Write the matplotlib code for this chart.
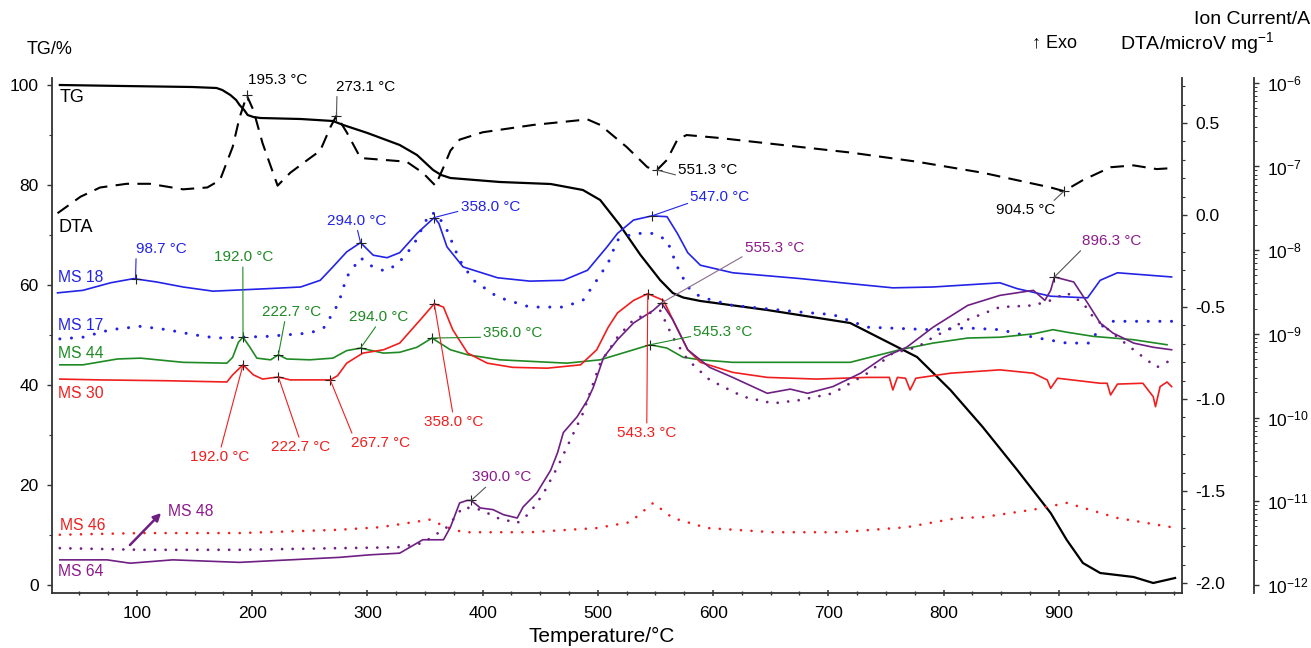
import numpy as np
import matplotlib
matplotlib.use("Agg")
import matplotlib.pyplot as plt
from matplotlib.ticker import MultipleLocator, FixedLocator, NullFormatter

plt.rcParams['font.family'] = ['Liberation Sans', 'DejaVu Sans']
plt.rcParams['mathtext.fontset'] = 'custom'
plt.rcParams['mathtext.rm'] = 'Liberation Sans'
plt.rcParams['mathtext.it'] = 'Liberation Sans:italic'
plt.rcParams['mathtext.bf'] = 'Liberation Sans:bold'

# ---- data ----
# TG mass (%) against temperature (degC)
tg_t = [33, 88, 148, 169, 174, 181, 186, 189, 193, 196, 201, 207, 242, 270, 279, 300, 328, 343, 357, 364, 372, 415, 459, 487, 502,
        519, 537, 554, 565, 574, 589, 647, 719, 748, 777, 806, 834, 864, 893, 907, 921, 936, 965, 982, 1001]
tg = [100, 99.8, 99.6, 99.4, 99.0, 98.0, 97.0, 96.0, 95.0, 94.0, 93.6, 93.4, 93.2, 92.8, 92.0, 90.4, 88.0, 86.0, 83.0, 82.0, 81.4, 80.6, 80.2, 79.0, 77.0,
      72.0, 66.0, 61.0, 58.4, 57.5, 56.8, 55.0, 52.4, 49.0, 45.6, 39.0, 31.6, 23.0, 14.4, 9.0, 4.4, 2.4, 1.6, 0.4, 1.4]

# DTA (microV/mg)
dta_t = [31, 51, 68, 91, 111, 140, 161, 172, 183, 189, 195.3, 201, 209, 222, 233, 248, 259, 268, 273.1, 282,
         294, 314, 334, 348, 359, 366, 372, 380, 400, 444, 491, 502, 525, 543, 551.3, 560, 569, 577, 604, 647,
         719, 777, 834, 893, 904.5, 921, 945, 965, 985, 998]
dta = [0.01, 0.10, 0.15, 0.17, 0.17, 0.14, 0.15, 0.19, 0.37, 0.53, 0.65, 0.57, 0.39, 0.16, 0.23, 0.30, 0.35, 0.48, 0.54, 0.45,
       0.31, 0.30, 0.29, 0.23, 0.16, 0.26, 0.35, 0.41, 0.45, 0.49, 0.52, 0.49, 0.37, 0.26, 0.245, 0.30, 0.41, 0.435, 0.42, 0.39,
       0.34, 0.29, 0.23, 0.15, 0.13, 0.19, 0.26, 0.27, 0.25, 0.255]

# MS ion currents, stored as log10(I / A)
ms18_t = [31, 53, 77, 97, 117, 140, 166, 213, 242, 259, 270, 282, 294, 305, 317, 328, 343, 358, 362, 369,
          383, 413, 441, 470, 491, 508, 517, 531, 547, 560, 569, 578, 589, 617, 676, 719, 756, 791, 849, 864,
          893, 925, 936, 951, 998]
ms18 = [-8.51, -8.48, -8.39, -8.34, -8.38, -8.44, -8.49, -8.46, -8.44, -8.36, -8.20, -8.02, -7.91, -8.06, -8.09, -8.03, -7.80, -7.61, -7.68, -7.96,
        -8.20, -8.33, -8.37, -8.36, -8.24, -7.96, -7.80, -7.64, -7.59, -7.60, -7.80, -8.03, -8.18, -8.27, -8.34, -8.40, -8.45, -8.44, -8.39, -8.46,
        -8.55, -8.57, -8.36, -8.27, -8.32]

ms17_t = [33, 53, 77, 103, 126, 149, 169, 213, 250, 262, 270, 275, 282, 294, 302, 315, 326, 340, 354, 360,
          369, 380, 392, 413, 441, 470, 487, 499, 509, 517, 531, 548, 560, 569, 578, 589, 617, 676, 704, 734,
          788, 821, 849, 878, 907, 927, 936, 947, 998]
ms17 = [-9.06, -9.04, -8.95, -8.91, -8.95, -9.01, -9.05, -9.03, -8.99, -8.93, -8.75, -8.63, -8.32, -8.09, -8.18, -8.25, -8.17, -7.94, -7.56, -7.56,
        -7.76, -8.12, -8.36, -8.56, -8.68, -8.68, -8.60, -8.36, -8.15, -7.88, -7.80, -7.80, -7.88, -8.20, -8.44, -8.56, -8.66, -8.74, -8.77, -8.92,
        -8.95, -8.93, -8.95, -9.04, -9.11, -9.11, -8.92, -8.85, -8.85]

ms44_t = [33, 53, 83, 103, 140, 178, 183, 188, 192, 198, 204, 216, 222.7, 230, 250, 270, 282, 294, 314, 328,
          343, 356, 372, 387, 415, 473, 502, 531, 545.3, 560, 574, 589, 617, 676, 719, 762, 791, 821, 849, 878,
          895, 907, 930, 965, 994]
ms44 = [-9.37, -9.37, -9.30, -9.29, -9.34, -9.35, -9.28, -9.10, -9.04, -9.16, -9.29, -9.31, -9.25, -9.30, -9.31, -9.29, -9.20, -9.17, -9.23, -9.22,
        -9.16, -9.05, -9.19, -9.25, -9.31, -9.35, -9.31, -9.19, -9.13, -9.17, -9.28, -9.31, -9.34, -9.34, -9.34, -9.19, -9.11, -9.05, -9.04, -9.00,
        -8.95, -8.98, -9.03, -9.07, -9.13]

ms30_t = [33, 68, 126, 178, 183, 192, 201, 209, 222.7, 233, 267.7, 274, 282, 296, 314, 328, 346, 358, 366, 374,
          387, 404, 426, 456, 485, 499, 509, 517, 531, 543.3, 557, 565, 578, 589, 617, 647, 690, 734, 753, 756,
          760, 767, 771, 776, 806, 849, 878, 890, 893, 899, 936, 942, 945, 951, 973, 982, 984, 988, 994, 998]
ms30 = [-9.54, -9.55, -9.56, -9.575, -9.49, -9.37, -9.49, -9.54, -9.515, -9.55, -9.55, -9.50, -9.35, -9.23, -9.19, -9.11, -8.83, -8.64, -8.68, -8.95,
        -9.23, -9.35, -9.40, -9.41, -9.37, -9.19, -8.92, -8.75, -8.60, -8.52, -8.60, -8.83, -9.19, -9.34, -9.46, -9.52, -9.54, -9.52, -9.52, -9.67,
        -9.52, -9.53, -9.67, -9.53, -9.47, -9.43, -9.47, -9.55, -9.65, -9.53, -9.59, -9.59, -9.73, -9.60, -9.59, -9.75, -9.87, -9.63, -9.575, -9.63]

ms64_t = [33, 74, 94, 131, 189, 276, 302, 328, 348, 366, 372, 380, 386.5, 390, 398, 409, 418, 430, 435, 447,
          459, 465, 470, 482, 491, 496, 505, 517, 531, 548, 555.3, 565, 578, 597, 617, 647, 667, 682, 704, 728,
          748, 768, 791, 821, 849, 878, 888, 893, 896.3, 913, 925, 936, 947, 965, 982, 998]
ms64 = [-11.70, -11.70, -11.74, -11.70, -11.73, -11.67, -11.64, -11.62, -11.46, -11.46, -11.31, -11.02, -10.99, -10.99, -11.08, -11.10, -11.16, -11.20, -11.07, -10.90,
        -10.63, -10.42, -10.18, -9.99, -9.79, -9.64, -9.28, -9.07, -8.87, -8.72, -8.63, -8.83, -9.19, -9.40, -9.52, -9.71, -9.66, -9.71, -9.63, -9.47,
        -9.28, -9.16, -8.92, -8.66, -8.54, -8.48, -8.60, -8.48, -8.32, -8.38, -8.63, -8.87, -8.99, -9.11, -9.16, -9.19]

ms48_t = [33, 103, 189, 276, 326, 348, 369, 383, 398, 413, 430, 441, 453, 465, 476, 487, 502, 517, 531, 545,
          554, 565, 578, 597, 626, 652, 676, 704, 734, 756, 777, 791, 821, 849, 878, 893, 907, 921, 930, 951,
          965, 985, 998]
ms48 = [-11.56, -11.58, -11.58, -11.56, -11.55, -11.50, -11.31, -11.07, -11.10, -11.20, -11.26, -11.14, -10.90, -10.59, -10.27, -9.95, -9.35, -9.04, -8.83, -8.75,
        -8.72, -9.04, -9.31, -9.55, -9.75, -9.83, -9.79, -9.71, -9.47, -9.23, -9.16, -9.04, -8.83, -8.68, -8.66, -8.60, -8.51, -8.63, -8.80, -9.04,
        -9.19, -9.40, -9.31]

ms46_t = [33, 103, 189, 276, 311, 354, 369, 383, 441, 499, 528, 548, 565, 595, 652, 710, 768, 812, 834, 878,
          907, 951, 998]
ms46 = [-11.40, -11.38, -11.38, -11.34, -11.31, -11.22, -11.31, -11.37, -11.37, -11.32, -11.25, -11.02, -11.20, -11.32, -11.37, -11.37, -11.31, -11.20, -11.19, -11.10,
        -11.02, -11.20, -11.31]

BLUE = '#2323e8'
GREEN = '#1f8a24'
RED = '#f01e1e'
PURPLE = '#6e1f82'
PURPLE_TXT = '#8c1a8c'

W, H = 1311, 648
fig = plt.figure(figsize=(W / 100, H / 100), dpi=100)
ax = fig.add_axes([52 / W, 55 / H, 1130 / W, 515 / H])
ax2 = ax.twinx()
ax3 = ax.twinx()

spine_c = '#333333'
for a in (ax, ax2, ax3):
    for s in a.spines.values():
        s.set_color(spine_c)
        s.set_linewidth(1.3)
    a.spines['top'].set_visible(False)
ax.spines['right'].set_visible(False)
for a in (ax2, ax3):
    a.spines['left'].set_visible(False)
    a.spines['bottom'].set_visible(False)
    a.xaxis.set_visible(False)
    a.yaxis.get_offset_text().set_visible(False)
ax3.spines['right'].set_position(('outward', 52))

ax.set_xlim(26.2, 1007)
ax.set_ylim(-1.6, 101.4)
ax2.set_ylim(-2.054, 0.745)
ax3.set_yscale('log')
ax3.set_ylim(10 ** -12.096, 10 ** -5.943)

# TG and DTA
ax.plot(tg_t, tg, color='black', lw=1.6, zorder=3)
ax2.plot(dta_t, dta, color='black', lw=1.5, dashes=(6.5, 4), zorder=3)


# MS curves
def logp(a):
    return 10 ** np.asarray(a)


dot = dict(dash_capstyle='round', solid_capstyle='round')
ax3.plot(ms18_t, logp(ms18), color=BLUE, lw=1.2)
ax3.plot(ms17_t, logp(ms17), color=BLUE, lw=2.2, dashes=(0.01, 3.8), **dot)
ax3.plot(ms44_t, logp(ms44), color=GREEN, lw=1.2)
ax3.plot(ms30_t, logp(ms30), color=RED, lw=1.2)
ax3.plot(ms46_t, logp(ms46), color=RED, lw=1.9, dashes=(0.01, 4.0), **dot)
ax3.plot(ms64_t, logp(ms64), color=PURPLE, lw=1.2)
ax3.plot(ms48_t, logp(ms48), color=PURPLE, lw=2.0, dashes=(0.01, 3.8), **dot)

# ticks
ax.xaxis.set_major_locator(FixedLocator([100, 200, 300, 400, 500, 600, 700, 800, 900]))
ax.xaxis.set_minor_locator(MultipleLocator(25))
ax.yaxis.set_major_locator(MultipleLocator(20))
ax.yaxis.set_minor_locator(MultipleLocator(10))
ax.tick_params(axis='x', which='major', direction='inout', length=5, width=1.1, pad=7, labelsize=12.5, color=spine_c)
ax.tick_params(axis='x', which='minor', direction='inout', length=3.5, width=1.0, color=spine_c)
ax.tick_params(axis='y', which='major', direction='out', length=3.5, width=1.0, pad=6, labelsize=12.5, color=spine_c)
ax.tick_params(axis='y', which='minor', direction='out', length=2, width=0.8, color=spine_c)

ax2.yaxis.set_major_locator(FixedLocator([-2.0, -1.5, -1.0, -0.5, 0.0, 0.5]))
ax2.yaxis.set_minor_locator(MultipleLocator(0.1))
ax2.yaxis.set_major_formatter(matplotlib.ticker.FormatStrFormatter('%.1f'))
ax2.tick_params(axis='y', which='major', direction='out', length=3.5, width=1.0, pad=6, labelsize=12.5, color=spine_c)
ax2.tick_params(axis='y', which='minor', direction='out', length=2, width=0.8, color=spine_c)

decades = list(range(-12, -5))
ax3.yaxis.set_major_locator(FixedLocator([10.0 ** e for e in decades]))
ax3.yaxis.set_minor_locator(FixedLocator([s * 10.0 ** e for e in decades[:-1] for s in range(2, 10)]))
ax3.yaxis.set_minor_formatter(NullFormatter())
ax3.tick_params(axis='y', which='major', direction='out', length=3.5, width=1.0, pad=6, labelsize=12.5, color=spine_c)
ax3.tick_params(axis='y', which='minor', direction='out', length=2, width=0.7, color=spine_c)


# peak annotations
def peak(axis, t, ts, vs, text, color, off, rel=None, log=False, lcolor=None):
    y = np.interp(t, ts, vs)
    if log:
        y = 10 ** y
    axis.plot([t], [y], marker='+', color='#222222', ms=6.5, mew=0.8, zorder=6)
    arrow = None
    if rel is not None:
        arrow = dict(arrowstyle='-', color=lcolor or color, lw=0.8, shrinkA=0, shrinkB=0, relpos=rel)
    axis.annotate(text, xy=(t, y), xytext=(off[0] * 0.72, -off[1] * 0.72), textcoords='offset points',
                  ha='center', va='center', color=color, fontsize=11, arrowprops=arrow, zorder=7)


GREY = '#555555'
peak(ax2, 195.3, dta_t, dta, '195.3 °C', 'black', (31, -15))
peak(ax2, 273.1, dta_t, dta, '273.1 °C', 'black', (29, -29), rel=(0.02, 0.1), lcolor=GREY)
peak(ax2, 551.3, dta_t, dta, '551.3 °C', 'black', (51, 0), rel=(0.0, 0.1), lcolor=GREY)
peak(ax2, 904.5, dta_t, dta, '904.5 °C', 'black', (-38, 19), rel=(0.9, 0.9), lcolor=GREY)

peak(ax3, 98.7, ms18_t, ms18, '98.7 °C', BLUE, (26, -30), rel=(0.0, 0.1), log=True)
peak(ax3, 294.0, ms18_t, ms18, '294.0 °C', BLUE, (-4, -22), rel=(0.5, 0.1), log=True)
peak(ax3, 358.0, ms18_t, ms18, '358.0 °C', BLUE, (56, -11), rel=(0.0, 0.2), log=True)
peak(ax3, 547.0, ms18_t, ms18, '547.0 °C', BLUE, (68, -19), rel=(0.0, 0.1), log=True)

peak(ax3, 192.0, ms44_t, ms44, '192.0 °C', GREEN, (1, -80), rel=(0.48, 0.1), log=True)
peak(ax3, 222.7, ms44_t, ms44, '222.7 °C', GREEN, (13, -43), rel=(0.4, 0.1), log=True)
peak(ax3, 294.0, ms44_t, ms44, '294.0 °C', GREEN, (18, -31), rel=(0.5, 0.1), log=True)
peak(ax3, 356.0, ms44_t, ms44, '356.0 °C', GREEN, (81, -5), rel=(0.0, 0.2), log=True)
peak(ax3, 545.3, ms44_t, ms44, '545.3 °C', GREEN, (73, -13), rel=(0.0, 0.2), log=True)

peak(ax3, 192.0, ms30_t, ms30, '192.0 °C', RED, (-23, 92), rel=(0.5, 0.9), log=True)
peak(ax3, 222.7, ms30_t, ms30, '222.7 °C', RED, (22, 70), rel=(0.5, 0.9), log=True)
peak(ax3, 267.7, ms30_t, ms30, '267.7 °C', RED, (50, 63), rel=(0.05, 0.9), log=True)
peak(ax3, 358.0, ms30_t, ms30, '358.0 °C', RED, (19, 118), rel=(0.5, 0.9), log=True)
peak(ax3, 543.3, ms30_t, ms30, '543.3 °C', RED, (-1, 139), rel=(0.5, 0.9), log=True)

peak(ax3, 390.0, ms64_t, ms64, '390.0 °C', PURPLE_TXT, (31, -23), rel=(0.3, 0.1), log=True, lcolor=GREY)
peak(ax3, 555.3, ms64_t, ms64, '555.3 °C', PURPLE_TXT, (113, -55), rel=(0.05, 0.1), log=True, lcolor='#8a6a8a')
peak(ax3, 896.3, ms64_t, ms64, '896.3 °C', PURPLE_TXT, (57, -36), rel=(0.05, 0.1), log=True, lcolor=GREY)


# text in figure pixels (from top-left)
def ftext(x, y, s, **kw):
    kw.setdefault('va', 'center')
    fig.text(x / W, 1 - y / H, s, **kw)


ftext(60, 98, 'TG', fontsize=13)
ftext(58, 227, 'DTA', fontsize=13)
ftext(58, 278, 'MS 18', fontsize=11.3, color=BLUE)
ftext(58, 326, 'MS 17', fontsize=11.3, color=BLUE)
ftext(58, 354, 'MS 44', fontsize=11.3, color=GREEN)
ftext(58, 393, 'MS 30', fontsize=11.3, color=RED)
ftext(60, 525, 'MS 46', fontsize=11.3, color=RED)
ftext(168, 511, 'MS 48', fontsize=11.3, color=PURPLE_TXT)
ftext(58, 572, 'MS 64', fontsize=11.3, color=PURPLE_TXT)
fig.add_artist(matplotlib.patches.FancyArrowPatch((128 / W, 1 - 547 / H), (163 / W, 1 - 511 / H),
                                                  transform=fig.transFigure, arrowstyle='-|>',
                                                  mutation_scale=11, color=PURPLE, lw=1.8))

ftext(27, 50, 'TG/%', fontsize=13)
ftext(1310, 20, 'Ion Current/A', fontsize=14, ha='right')
ftext(1197, 43, 'DTA/microV mg$^{-1}$', fontsize=14, ha='center')
ftext(1055, 43, '↑ Exo', fontsize=13, ha='center')
ftext(602, 636, 'Temperature/°C', fontsize=15, ha='center')

fig.savefig('out.png', dpi=100)
